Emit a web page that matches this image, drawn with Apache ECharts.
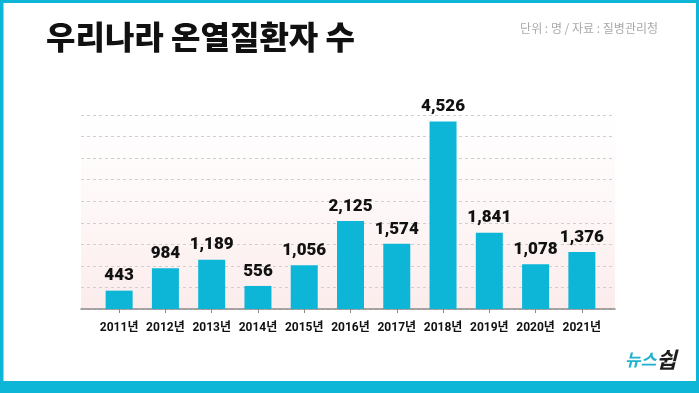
<!DOCTYPE html>
<html><head><meta charset="utf-8">
<script src="https://cdn.jsdelivr.net/npm/echarts@6/dist/echarts.min.js"></script>
<style>html,body{margin:0;padding:0;background:#fff}#c{width:699px;height:393px}</style>
</head><body><div id="c"></div>
<script>
const years = ['2011년','2012년','2013년','2014년','2015년','2016년','2017년','2018년','2019년','2020년','2021년'];
const patients = [443, 984, 1189, 556, 1056, 2125, 1574, 4526, 1841, 1078, 1376];
const yMax = 4680;
const yStep = 520;
const titleText = '우리나라 온열질환자 수';
const sourceText = '단위 : 명 / 자료 : 질병관리청';

const CYAN = '#0db5d7';
const NUM_FONT = 'Roboto, "Noto Sans CJK KR", sans-serif';

const chart = echarts.init(document.getElementById('c'), null, {renderer: 'canvas'});
chart.setOption({
  animation: false,
  backgroundColor: '#ffffff',
  grid: [
    {left: 96, right: 94, top: 115, bottom: 84},
    {left: 81, right: 84, top: 115, bottom: 84, show: true, borderWidth: 0, z: -1,
      backgroundColor: new echarts.graphic.LinearGradient(0, 0, 0, 1, [
        {offset: 0, color: 'rgba(253,240,240,0)'},
        {offset: 1, color: 'rgba(252,236,236,1)'}
      ])}
  ],
  xAxis: [
    {gridIndex: 0, type: 'category', data: years,
      axisLine: {show: false},
      axisTick: {show: true, alignWithLabel: true, length: 4, lineStyle: {color: '#8a8a8a'}},
      axisLabel: {interval: 0, color: '#111', fontFamily: NUM_FONT, fontWeight: 'bold', fontSize: 12, margin: 13}},
    {gridIndex: 1, type: 'value', min: 0, max: 1,
      axisLine: {show: true, onZero: false, lineStyle: {color: '#8a8a8a', width: 1.5}},
      axisTick: {show: false}, axisLabel: {show: false}, splitLine: {show: false}}
  ],
  yAxis: [
    {gridIndex: 0, type: 'value', min: 0, max: yMax, interval: yStep, show: false},
    {gridIndex: 1, type: 'value', min: 0, max: yMax, interval: yStep,
      axisLine: {show: false}, axisTick: {show: false}, axisLabel: {show: false},
      splitLine: {show: true, lineStyle: {type: [3, 3], color: '#cfcfcf', width: 1}}}
  ],
  series: [{
    type: 'bar', xAxisIndex: 0, yAxisIndex: 0, data: patients, barWidth: 27,
    itemStyle: {color: CYAN},
    label: {show: true, position: 'top', distance: 6, color: '#111', fontFamily: NUM_FONT,
      fontWeight: 900, fontSize: 17,
      formatter: p => p.value.toLocaleString('en-US')}
  }],
  graphic: [
    {type: 'rect', left: 0, top: 0, shape: {width: 699, height: 3}, style: {fill: CYAN}},
    {type: 'rect', left: 0, top: 0, shape: {width: 3.5, height: 393}, style: {fill: CYAN}},
    {type: 'rect', left: 696, top: 0, shape: {width: 3, height: 393}, style: {fill: CYAN}},
    {type: 'rect', left: 0, top: 381, shape: {width: 699, height: 12}, style: {fill: CYAN}},
    {type: 'text', left: 46, top: 21, style: {text: titleText, fill: '#111',
      font: '900 32px "Noto Sans CJK KR", sans-serif'}},
    {type: 'text', right: 41, top: 22, style: {text: sourceText, fill: '#a9a9a9',
      font: '12px "Noto Sans CJK KR", sans-serif'}},
    {type: 'text', left: 625, top: 349, style: {text: '{a|뉴스}{b|쉽}',
      rich: {
        a: {fontSize: 17, fontWeight: 'bold', fontStyle: 'italic', fill: '#1fb3d0', fontFamily: '"Noto Sans CJK KR"'},
        b: {fontSize: 22, fontWeight: 'bold', fontStyle: 'italic', fill: '#1d1d1d', fontFamily: '"Noto Sans CJK KR"'}
      }}}
  ]
});
</script>
</body></html>
